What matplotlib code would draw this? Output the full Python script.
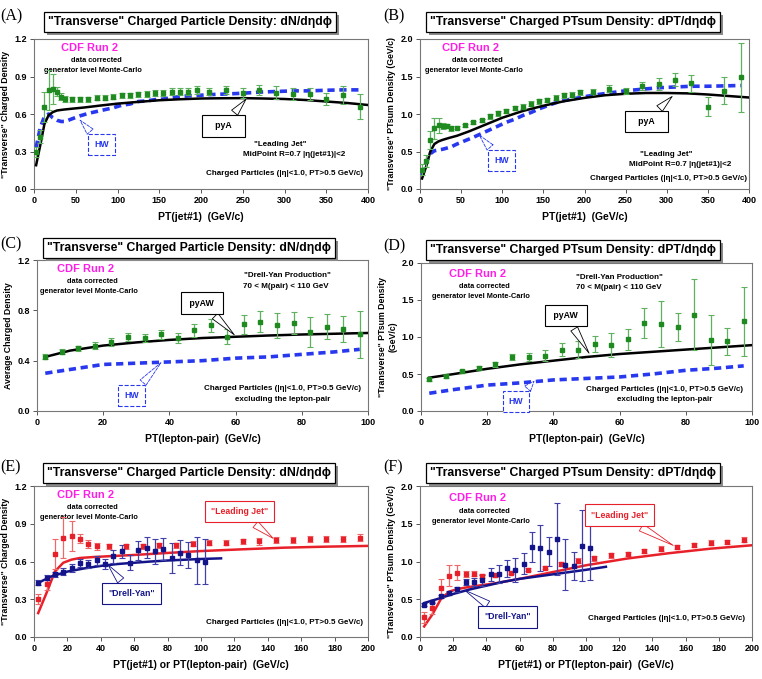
import numpy as np
import matplotlib
matplotlib.use("Agg")
import matplotlib.pyplot as plt
from matplotlib.patches import Rectangle

plt.rcParams['font.family'] = ['Liberation Sans', 'DejaVu Sans']
plt.rcParams['font.weight'] = 'bold'

W, H = 762, 679

# Leading jet data (CDF Run 2)
lj_x = [2.5, 7.5, 12.5, 17.5, 22.5, 27.5, 32.5, 37.5, 45, 55, 65, 75, 85, 95, 105, 115,
        125, 135, 145, 155, 165, 175, 185, 195, 210, 230, 250, 270, 290, 310, 330, 350, 370, 390]
lj_dn = [0.30, 0.42, 0.66, 0.79, 0.80, 0.78, 0.74, 0.72, 0.72, 0.72, 0.72, 0.73, 0.73, 0.74, 0.75, 0.75,
         0.76, 0.76, 0.77, 0.77, 0.78, 0.78, 0.78, 0.79, 0.78, 0.79, 0.77, 0.79, 0.77, 0.76, 0.76, 0.72, 0.75, 0.66]
lj_dn_err = [0.04, 0.05, 0.12, 0.16, 0.12, 0.035, 0.03, 0.025, 0.02, 0.02, 0.02, 0.02, 0.02, 0.02, 0.02, 0.02,
             0.02, 0.025, 0.025, 0.025, 0.025, 0.025, 0.025, 0.03, 0.03, 0.03, 0.04, 0.04, 0.05, 0.05, 0.05, 0.05, 0.07, 0.10]
lj_pt = [0.26, 0.38, 0.65, 0.81, 0.85, 0.84, 0.84, 0.81, 0.82, 0.85, 0.89, 0.92, 0.97, 1.01, 1.04, 1.08,
         1.10, 1.14, 1.17, 1.19, 1.22, 1.25, 1.26, 1.29, 1.30, 1.34, 1.31, 1.37, 1.40, 1.46, 1.41, 1.10, 1.31, 1.49]
lj_pt_err = [0.07, 0.08, 0.12, 0.14, 0.10, 0.04, 0.03, 0.03, 0.02, 0.02, 0.02, 0.02, 0.03, 0.03, 0.03, 0.03,
             0.03, 0.03, 0.03, 0.03, 0.03, 0.03, 0.03, 0.03, 0.03, 0.04, 0.04, 0.05, 0.08, 0.09, 0.11, 0.13, 0.18, 0.46]

# HERWIG for leading jet (same bins)
hw_lj_dn = [0.33, 0.49, 0.58, 0.60, 0.57, 0.55, 0.54, 0.54, 0.56, 0.585, 0.605, 0.62, 0.635, 0.65, 0.67, 0.68,
            0.70, 0.705, 0.715, 0.72, 0.73, 0.74, 0.745, 0.748, 0.755, 0.76, 0.766, 0.775, 0.78, 0.785, 0.785, 0.79, 0.793, 0.793]
hw_lj_pt = [0.17, 0.36, 0.47, 0.51, 0.52, 0.53, 0.545, 0.56, 0.60, 0.645, 0.69, 0.74, 0.79, 0.84, 0.89, 0.93,
            0.98, 1.02, 1.07, 1.11, 1.15, 1.18, 1.20, 1.22, 1.25, 1.28, 1.31, 1.33, 1.35, 1.36, 1.37, 1.37, 1.375, 1.38]

# PYTHIA tune A for leading jet
pya_x = [2.5, 7.5, 12.5, 17.5, 22.5, 27.5, 35, 45, 60, 80, 100, 125, 150, 175, 200, 225, 250, 275, 300, 325, 350, 375, 400]
pya_dn = [0.19, 0.35, 0.52, 0.59, 0.615, 0.628, 0.635, 0.642, 0.652, 0.668, 0.683, 0.697, 0.71, 0.718, 0.724,
          0.726, 0.727, 0.724, 0.72, 0.712, 0.70, 0.688, 0.672]
pya_pt = [0.14, 0.30, 0.50, 0.60, 0.635, 0.655, 0.68, 0.71, 0.77, 0.86, 0.95, 1.04, 1.11, 1.17, 1.215,
          1.25, 1.27, 1.28, 1.28, 1.275, 1.26, 1.24, 1.22]

# Drell-Yan data
dy_x = [2.5, 7.5, 12.5, 17.5, 22.5, 27.5, 32.5, 37.5, 42.5, 47.5, 52.5, 57.5, 62.5, 67.5, 72.5, 77.5,
        82.5, 87.5, 92.5, 97.5, 102.5]
dy_dn = [0.43, 0.47, 0.50, 0.52, 0.55, 0.59, 0.58, 0.61, 0.58, 0.64, 0.68, 0.59, 0.69, 0.71, 0.68, 0.70,
         0.63, 0.67, 0.65, 0.61, 0.60]
dy_dn_err = [0.02, 0.02, 0.02, 0.03, 0.03, 0.03, 0.03, 0.035, 0.04, 0.055, 0.05, 0.06, 0.075, 0.085, 0.10, 0.09,
             0.12, 0.10, 0.105, 0.185, 0.18]
dy_pt = [0.43, 0.47, 0.54, 0.58, 0.63, 0.73, 0.73, 0.75, 0.83, 0.83, 0.91, 0.89, 0.97, 1.19, 1.18, 1.13,
         1.30, 0.96, 0.94, 1.21, 1.18]
dy_pt_err = [0.02, 0.02, 0.02, 0.03, 0.03, 0.04, 0.05, 0.07, 0.09, 0.12, 0.11, 0.16, 0.14, 0.20, 0.31, 0.19,
             0.48, 0.34, 0.18, 0.47, 0.42]

# PYTHIA tune AW for Drell-Yan
pyaw_x = [2.5, 10, 20, 30, 40, 50, 60, 70, 80, 90, 100, 112]
pyaw_dn = [0.43, 0.48, 0.52, 0.545, 0.565, 0.58, 0.59, 0.60, 0.608, 0.614, 0.62, 0.625]
pyaw_pt = [0.45, 0.50, 0.57, 0.63, 0.68, 0.73, 0.77, 0.80, 0.83, 0.86, 0.89, 0.93]

# HERWIG for Drell-Yan
hw_dy_x = [2.5, 10, 20, 30, 40, 50, 60, 70, 80, 90, 97.5]
hw_dy_dn = [0.30, 0.33, 0.37, 0.38, 0.39, 0.40, 0.42, 0.43, 0.45, 0.47, 0.49]
hw_dy_pt = [0.24, 0.29, 0.35, 0.38, 0.42, 0.44, 0.46, 0.50, 0.55, 0.58, 0.61]

GREEN, GREEN_E = '#1f8a1f', '#5fb05f'
HWBLUE = '#2838ee'
RED, RED_E = '#e8202a', '#ee6a6a'
NAVY, NAVY_E = '#14148a', '#4040a8'
MAGENTA = '#ff1ee6'

TITLE_N = '"Transverse" Charged Particle Density: dN/d\u03b7d\u03d5'
TITLE_PT = '"Transverse" Charged PTsum Density: dPT/d\u03b7d\u03d5'
CHG = 'Charged Particles (|\u03b7|<1.0, PT>0.5 GeV/c)'

fig = plt.figure(figsize=(W / 100, H / 100), dpi=100)
title_texts = []


def make_ax(l, r, t, b, xmax, xstep, ymax, ystep, xlabel, ylabel):
    ax = fig.add_axes([l / W, 1 - b / H, (r - l) / W, (b - t) / H])
    ax.set_xlim(0, xmax)
    ax.set_ylim(0, ymax)
    ax.set_xticks(np.arange(0, xmax + 0.01, xstep))
    ax.set_yticks(np.arange(0, ymax + 0.001, ystep))
    ax.set_yticklabels(['%.1f' % v for v in np.arange(0, ymax + 0.001, ystep)])
    ax.tick_params(labelsize=6.5, length=3, width=0.7, color='#555555', pad=2)
    for lab in ax.get_xticklabels() + ax.get_yticklabels():
        lab.set_fontweight('bold')
    for s in ax.spines.values():
        s.set_color('#777777')
        s.set_linewidth(0.8)
    ax.set_xlabel(xlabel, fontsize=7.5, fontweight='bold', labelpad=5)
    ax.set_ylabel(ylabel, fontsize=6.3, fontweight='bold', labelpad=3)
    return ax


def title_box(xc, yc, text, label, lx, ly):
    t = fig.text(xc / W, 1 - yc / H, text, fontsize=8.8, fontweight='bold', ha='center', va='center',
                 zorder=5, bbox=dict(boxstyle='square,pad=0.35', fc='white', ec='black', lw=0.9))
    title_texts.append(t)
    fig.text(lx / W, 1 - ly / H, label, fontsize=11.5, family='Liberation Serif', fontweight='normal',
             ha='left', va='center')


def cdf_text(ax, x, y):
    ax.text(x, y, 'CDF Run 2', transform=ax.transAxes, color=MAGENTA, fontsize=8, fontweight='bold',
            ha='center', va='center')
    ax.text(x + 0.02, y - 0.085, 'data corrected', transform=ax.transAxes, fontsize=5.3,
            fontweight='bold', ha='center', va='center')
    ax.text(x + 0.01, y - 0.15, 'generator level Monte-Carlo', transform=ax.transAxes, fontsize=5.3,
            fontweight='bold', ha='center', va='center')


def callout(ax, text, xy, xytext, color, dashed=False, fs=6.3):
    ls = '--' if dashed else '-'
    ax.annotate(text, xy=xy, xytext=xytext, fontsize=fs, fontweight='bold', color=color,
                ha='center', va='center', zorder=6,
                bbox=dict(boxstyle='square,pad=0.7', fc='white', ec=color, lw=0.8, ls=ls),
                arrowprops=dict(arrowstyle='wedge,tail_width=0.9,shrink_factor=0.5', fc='white',
                                ec=color, lw=0.6, ls=ls))


def data(ax, x, y, e, mc, ec):
    ax.errorbar(x, y, yerr=e, fmt='s', ms=2.8, color=mc, ecolor=ec, elinewidth=0.9, capsize=2,
                capthick=0.8, zorder=5)


def hw_line(ax, x, y):
    ax.plot(x, y, color=HWBLUE, lw=2.6, dashes=(2.0, 1.3), zorder=3)


# (A)
axA = make_ax(34, 368, 39, 189, 400, 50, 1.2, 0.3, 'PT(jet#1)  (GeV/c)', '"Transverse" Charged Density')
hw_line(axA, lj_x, hw_lj_dn)
axA.plot(pya_x, pya_dn, color='black', lw=1.8, zorder=4)
data(axA, lj_x, lj_dn, lj_dn_err, GREEN, GREEN_E)
cdf_text(axA, 0.167, 0.94)
axA.text(0.737, 0.295, '"Leading Jet"', transform=axA.transAxes, fontsize=5.8, ha='center', va='center')
axA.text(0.78, 0.228, 'MidPoint R=0.7 |\u03b7(jet#1)|<2', transform=axA.transAxes, fontsize=5.8,
         ha='center', va='center')
axA.text(0.985, 0.104, CHG, transform=axA.transAxes, fontsize=5.8, ha='right', va='center')
callout(axA, '   pyA   ', (256, 0.735), (227, 0.505), 'black')
callout(axA, 'HW', (53, 0.567), (81, 0.354), HWBLUE, dashed=True)
title_box(190, 22, TITLE_N, '(A)', 0, 16)

# (B)
axB = make_ax(420, 749, 39, 189, 400, 50, 2.0, 0.5, 'PT(jet#1)  (GeV/c)', '"Transverse" PTsum Density (GeV/c)')
hw_line(axB, lj_x, hw_lj_pt)
axB.plot(pya_x, pya_pt, color='black', lw=1.8, zorder=4)
data(axB, lj_x, lj_pt, lj_pt_err, GREEN, GREEN_E)
cdf_text(axB, 0.154, 0.942)
axB.text(0.747, 0.228, '"Leading Jet"', transform=axB.transAxes, fontsize=5.8, ha='center', va='center')
axB.text(0.792, 0.162, 'MidPoint R=0.7 |\u03b7(jet#1)|<2', transform=axB.transAxes, fontsize=5.8,
         ha='center', va='center')
axB.text(0.995, 0.069, CHG, transform=axB.transAxes, fontsize=5.8, ha='right', va='center')
callout(axB, '   pyA   ', (309, 1.26), (275, 0.90), 'black')
callout(axB, 'HW', (70, 0.745), (99, 0.38), HWBLUE, dashed=True)
title_box(573, 22, TITLE_PT, '(B)', 383, 16)

# (C)
axC = make_ax(37, 368, 260, 411, 100, 20, 1.2, 0.4, 'PT(lepton-pair)  (GeV/c)', 'Average Charged Density')
hw_line(axC, hw_dy_x, hw_dy_dn)
axC.plot(pyaw_x, pyaw_dn, color='black', lw=1.8, zorder=4)
data(axC, dy_x, dy_dn, dy_dn_err, GREEN, GREEN_E)
cdf_text(axC, 0.147, 0.94)
axC.text(0.758, 0.896, '"Drell-Yan Production"', transform=axC.transAxes, fontsize=5.8, ha='center', va='center')
axC.text(0.753, 0.826, '70 < M(pair) < 110 GeV', transform=axC.transAxes, fontsize=5.8, ha='center', va='center')
axC.text(0.743, 0.146, CHG, transform=axC.transAxes, fontsize=5.8, ha='center', va='center')
axC.text(0.743, 0.075, 'excluding the lepton-pair', transform=axC.transAxes, fontsize=5.8,
         ha='center', va='center')
callout(axC, ' pyAW ', (60.2, 0.59), (49.8, 0.858), 'black')
callout(axC, 'HW', (38, 0.40), (28.5, 0.122), HWBLUE, dashed=True)
title_box(189, 248, TITLE_N, '(C)', 0, 244)

# (D)
axD = make_ax(421, 752, 263, 411, 100, 20, 2.0, 0.5, 'PT(lepton-pair)  (GeV/c)',
              '"Transverse" PTsum Density\n(GeV/c)')
hw_line(axD, hw_dy_x, hw_dy_pt)
axD.plot(pyaw_x, pyaw_pt, color='black', lw=1.8, zorder=4)
data(axD, dy_x, dy_pt, dy_pt_err, GREEN, GREEN_E)
cdf_text(axD, 0.171, 0.926)
axD.text(0.599, 0.904, '"Drell-Yan Production"', transform=axD.transAxes, fontsize=5.8, ha='center', va='center')
axD.text(0.599, 0.832, '70 < M(pair) < 110 GeV', transform=axD.transAxes, fontsize=5.8, ha='center', va='center')
axD.text(0.736, 0.148, CHG, transform=axD.transAxes, fontsize=5.8, ha='center', va='center')
axD.text(0.736, 0.081, 'excluding the lepton-pair', transform=axD.transAxes, fontsize=5.8,
         ha='center', va='center')
callout(axD, ' pyAW ', (51.2, 0.75), (43.8, 1.29), 'black')
callout(axD, 'HW', (34.7, 0.43), (28.7, 0.125), HWBLUE, dashed=True)
title_box(573, 250, TITLE_PT, '(D)', 383, 246)

# (E)
axE = make_ax(34, 368, 486, 637, 200, 20, 1.2, 0.3, 'PT(jet#1) or PT(lepton-pair)  (GeV/c)',
              '"Transverse" Charged Density')
axE.plot(pya_x, pya_dn, color=RED, lw=1.8, zorder=3)
axE.plot(pyaw_x, pyaw_dn, color=NAVY, lw=1.8, zorder=3)
data(axE, lj_x, lj_dn, lj_dn_err, RED, RED_E)
data(axE, dy_x, dy_dn, dy_dn_err, NAVY, NAVY_E)
cdf_text(axE, 0.154, 0.94)
axE.text(0.985, 0.095, CHG, transform=axE.transAxes, fontsize=5.8, ha='right', va='center')
callout(axE, '"Leading Jet"', (144.5, 0.77), (123, 0.996), RED)
callout(axE, '"Drell-Yan"', (43.3, 0.59), (58.3, 0.345), NAVY)
title_box(189, 473, TITLE_N, '(E)', 0, 467)

# (F)
axF = make_ax(420, 752, 486, 637, 200, 20, 2.0, 0.5, 'PT(jet#1) or PT(lepton-pair)  (GeV/c)',
              '"Transverse" PTsum Density (GeV/c)')
axF.plot(pya_x, pya_pt, color=RED, lw=1.8, zorder=3)
axF.plot(pyaw_x, pyaw_pt, color=NAVY, lw=1.8, zorder=3)
data(axF, lj_x, lj_pt, lj_pt_err, RED, RED_E)
data(axF, dy_x, dy_pt, dy_pt_err, NAVY, NAVY_E)
cdf_text(axF, 0.173, 0.918)
axF.text(0.978, 0.122, CHG, transform=axF.transAxes, fontsize=5.8, ha='right', va='center')
callout(axF, '"Leading Jet"', (154, 1.195), (120, 1.615), RED)
callout(axF, '"Drell-Yan"', (25.5, 0.64), (52.7, 0.265), NAVY)
title_box(573, 473, TITLE_PT, '(F)', 383, 467)

# drop shadows behind the title boxes
fig.canvas.draw()
for t in title_texts:
    bb = t.get_bbox_patch().get_window_extent()
    fig.add_artist(Rectangle((bb.x0 + 3, bb.y0 - 3), bb.width, bb.height, transform=None,
                             fc='#8a8a8a', ec='none', zorder=2))

fig.savefig('out.png', dpi=100)
